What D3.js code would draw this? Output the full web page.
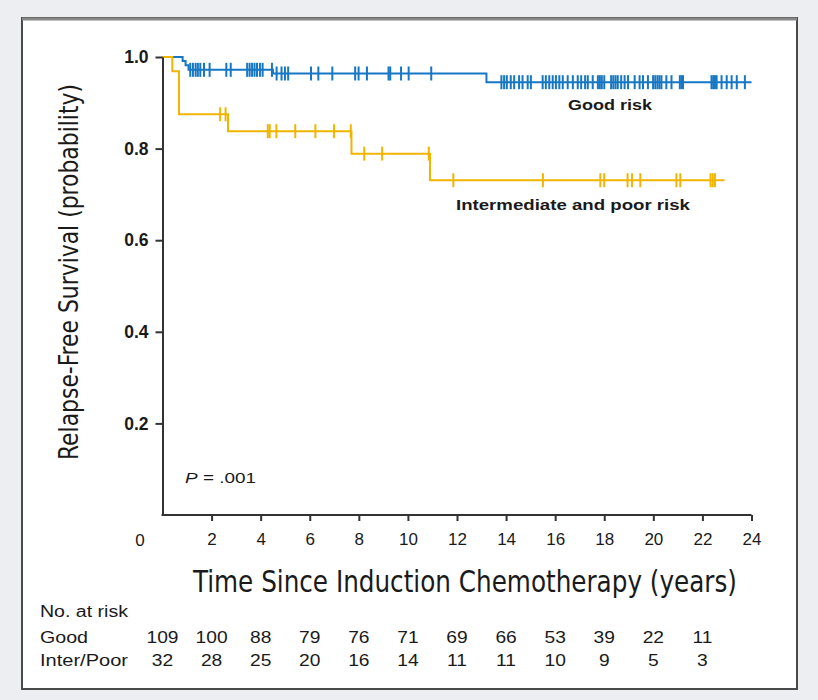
<!DOCTYPE html>
<html><head><meta charset="utf-8">
<script src="https://cdn.jsdelivr.net/npm/d3@7"></script>
<style>
html,body{margin:0;padding:0;background:#eceef1;}
svg{display:block;}
text{font-family:"Liberation Sans",Arial,sans-serif;fill:#1a1a1a;}
.narrow{font-family:"Liberation Sans Narrow","DejaVu Sans Condensed","Liberation Sans",Arial,sans-serif;}
</style></head>
<body>
<script>
// ---- data ----
const xTicks = [2,4,6,8,10,12,14,16,18,20,22,24];
const yTicks = [0.2,0.4,0.6,0.8,1.0];

const goodTimes = [0, 0.82, 0.94, 1.06, 4.5, 13.2];
const goodSurv  = [1, 0.991, 0.982, 0.972, 0.964, 0.945];
const goodEnd = 24;
const goodCensor = [1.13,1.24,1.35,1.44,1.54,1.69,1.92,2.6,2.78,3.45,3.55,3.65,3.75,3.85,3.97,4.08,4.46,4.65,4.85,4.99,5.12,6.05,6.35,6.92,7.85,7.99,8.33,9.21,9.28,9.72,10.03,10.95,
  13.81,13.92,14.03,14.19,14.33,14.53,14.67,14.88,15.01,15.49,15.62,15.76,15.9,16.03,16.17,16.31,16.51,16.72,16.92,17.06,17.22,17.33,17.53,17.74,17.82,17.9,18.0,
  18.28,18.37,18.46,18.55,18.69,18.83,18.97,19.24,19.44,19.58,19.78,19.99,20.08,20.17,20.25,20.33,20.53,20.74,21.08,21.15,21.21,22.37,22.44,22.51,22.58,22.78,22.99,23.19,23.4,23.73];

const poorTimes = [0, 0.4, 0.67, 2.67, 7.7, 10.9];
const poorSurv  = [1, 0.969, 0.875, 0.838, 0.789, 0.731];
const poorEnd = 22.9;
const poorCensor = [2.35,2.57,4.29,4.37,4.64,5.41,6.23,6.99,7.67,8.22,8.95,10.85,11.85,15.5,17.84,18.0,18.95,19.13,19.47,20.94,21.1,22.33,22.42,22.51];

const riskTimes = [0,2,4,6,8,10,12,14,16,18,20,22];
const riskGood = [109,100,88,79,76,71,69,66,53,39,22,11];
const riskPoor = [32,28,25,20,16,14,11,11,10,9,5,3];

// ---- drawing ----
const W=818,H=700;
const svg=d3.select("body").append("svg").attr("width",W).attr("height",H);
svg.append("rect").attr("x",0).attr("y",0).attr("width",W).attr("height",H).attr("fill","#eceef1");
svg.append("rect").attr("x",22).attr("y",18).attr("width",775).attr("height",671)
  .attr("fill","#fff").attr("stroke","#4a4a4a").attr("stroke-width",2);
svg.append("line").attr("x1",22).attr("x2",797).attr("y1",19).attr("y2",19).attr("stroke","#888").attr("stroke-width",3);

const x=d3.scaleLinear().domain([0,24]).range([162.5,751.5]);
const y=d3.scaleLinear().domain([0,1]).range([515,57]);

const blue="#1677c4", yellow="#f1b500";

function stepVal(times,surv,t){let v=surv[0];for(let i=0;i<times.length;i++){if(times[i]<=t)v=surv[i];}return v;}
function curve(times,surv,end,censor,color){
  const pts=times.map((t,i)=>[t,surv[i]]);pts.push([end,surv[surv.length-1]]);
  const line=d3.line().x(d=>x(d[0])).y(d=>y(d[1])).curve(d3.curveStepAfter);
  svg.append("path").attr("d",line(pts)).attr("fill","none").attr("stroke",color).attr("stroke-width",2);
  svg.append("g").selectAll("line").data(censor).join("line")
    .attr("x1",d=>x(d)).attr("x2",d=>x(d))
    .attr("y1",d=>y(stepVal(times,surv,d))-7).attr("y2",d=>y(stepVal(times,surv,d))+7)
    .attr("stroke",color).attr("stroke-width",2);
}
curve(goodTimes,goodSurv,goodEnd,goodCensor,blue);
curve(poorTimes,poorSurv,poorEnd,poorCensor,yellow);

// axes
const gy=svg.append("g").attr("transform",`translate(${x(0)},0)`)
  .call(d3.axisLeft(y).tickValues(yTicks).tickFormat(d3.format(".1f")).tickSize(7).tickSizeOuter(0).tickPadding(7));
const gx=svg.append("g").attr("transform",`translate(0,${y(0)})`)
  .call(d3.axisBottom(x).tickValues(xTicks).tickSize(6).tickSizeOuter(0).tickPadding(12));
[gx,gy].forEach(g=>{
  g.selectAll("path,line").attr("stroke","#333").attr("stroke-width",2);
  g.selectAll("text").attr("font-size",17).attr("fill","#1a1a1a").attr("font-family","Liberation Sans, Arial, sans-serif");
});
gy.selectAll("text").attr("font-weight","bold").attr("font-size",17.5);
gx.select(".domain").attr("d",`M${x(0)-1},0H${x(24)}`);
svg.append("text").attr("x",140).attr("y",546).attr("text-anchor","middle").attr("font-size",17).text("0");

// titles
svg.append("text").attr("class","narrow").attr("x",465).attr("y",592).attr("text-anchor","middle")
  .attr("font-size",31).attr("textLength",544).attr("lengthAdjust","spacingAndGlyphs")
  .text("Time Since Induction Chemotherapy (years)");
svg.append("text").attr("class","narrow").attr("transform","translate(78,272) rotate(-90)").attr("text-anchor","middle")
  .attr("font-size",27).attr("textLength",376).attr("lengthAdjust","spacingAndGlyphs")
  .text("Relapse-Free Survival (probability)");

// labels
function lbl(tx,ty,str,len,anchor){
  return svg.append("text").attr("x",tx).attr("y",ty).attr("text-anchor",anchor||"middle").attr("font-size",15)
    .attr("font-weight",600).attr("textLength",len).attr("lengthAdjust","spacingAndGlyphs").text(str);
}
lbl(610,110,"Good risk",84);
lbl(573,210,"Intermediate and poor risk",234);
const p=svg.append("text").attr("x",185).attr("y",483).attr("font-size",15).attr("textLength",71).attr("lengthAdjust","spacingAndGlyphs");
p.append("tspan").attr("font-style","italic").text("P");
p.append("tspan").text(" = .001");

// risk table
function rlab(ty,str,len){svg.append("text").attr("x",40).attr("y",ty).attr("font-size",16)
  .attr("textLength",len).attr("lengthAdjust","spacingAndGlyphs").text(str);}
rlab(617,"No. at risk",88);
rlab(643,"Good",48);
rlab(666,"Inter/Poor",88);
svg.append("g").selectAll("text").data(riskGood).join("text")
  .attr("x",(d,i)=>x(riskTimes[i])).attr("y",643).attr("text-anchor","middle").attr("font-size",16)
  .attr("transform",(d,i)=>`translate(${x(riskTimes[i])},0) scale(1.2,1) translate(${-x(riskTimes[i])},0)`).text(d=>d);
svg.append("g").selectAll("text").data(riskPoor).join("text")
  .attr("x",(d,i)=>x(riskTimes[i])).attr("y",666).attr("text-anchor","middle").attr("font-size",16)
  .attr("transform",(d,i)=>`translate(${x(riskTimes[i])},0) scale(1.2,1) translate(${-x(riskTimes[i])},0)`).text(d=>d);
</script>
</body></html>
